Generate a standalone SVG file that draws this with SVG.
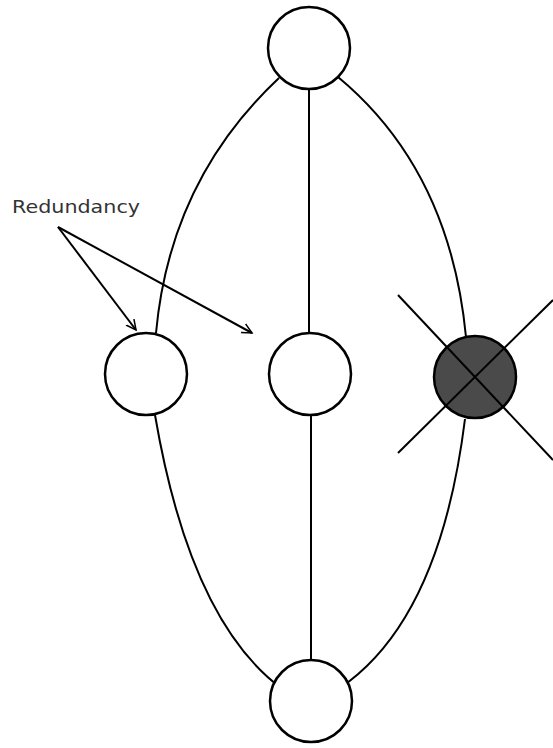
<svg xmlns="http://www.w3.org/2000/svg" width="553" height="748" viewBox="0 0 553 748">
<style>
.n{fill:#fff;stroke:#000;stroke-width:2.5}
.d{fill:#4a4a4a;stroke:#000;stroke-width:2.5}
.c{fill:none;stroke:#000;stroke-width:2}
.t{font-family:"DejaVu Sans",sans-serif;font-size:18px;fill:#333}
</style>
<defs>
<marker id="ah" markerWidth="12" markerHeight="12" refX="10" refY="6" orient="auto" markerUnits="userSpaceOnUse">
<path d="M0,1 L10,6 L0,11" fill="none" stroke="#000" stroke-width="1.5"/>
</marker>
</defs>
<g id="connectors">
<line class="c" x1="309" y1="90" x2="309" y2="332"/>
<line class="c" x1="311" y1="416" x2="311" y2="660"/>
<path class="c" d="M279,78 Q170,180 156,333"/>
<path class="c" d="M155,415 Q190,620 281,688"/>
<path class="c" d="M338,77 Q450,170 466,337"/>
<path class="c" d="M465,419 Q440,620 340,688"/>
<line class="c" x1="58" y1="227" x2="136" y2="330" stroke-width="1.3" marker-end="url(#ah)"/>
<line class="c" x1="58" y1="227" x2="252" y2="333" stroke-width="2.5" marker-end="url(#ah)"/>
</g>
<g id="top"><circle class="n" cx="309" cy="48" r="41"/></g>
<g id="left"><circle class="n" cx="146" cy="374" r="41"/></g>
<g id="middle"><circle class="n" cx="310" cy="374" r="41"/></g>
<g id="failed">
<circle class="d" cx="475" cy="377" r="41"/>
<line class="c" x1="398" y1="295" x2="553" y2="460"/>
<line class="c" x1="553" y1="300" x2="398" y2="453"/>
</g>
<g id="bottom"><circle class="n" cx="311" cy="701" r="41"/></g>
<text class="t" x="12" y="213" textLength="128" lengthAdjust="spacingAndGlyphs">Redundancy</text>
</svg>
